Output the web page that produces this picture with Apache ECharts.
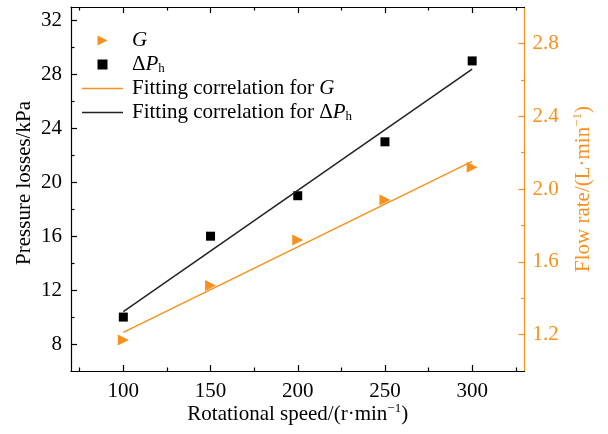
<!DOCTYPE html>
<html>
<head>
<meta charset="utf-8">
<script src="https://cdn.jsdelivr.net/npm/echarts@6/dist/echarts.min.js"></script>
<style>
  html, body { margin: 0; padding: 0; background: #fff; }
  #chart { width: 608px; height: 434px; }
</style>
</head>
<body>
<div id="chart"></div>
<script>
// Measured points: rotational speed vs. flow rate G and pressure loss ΔPh
const speed = [100, 150, 200, 250, 300];
const flowRate = [1.17, 1.47, 1.72, 1.94, 2.12];       // L·min⁻¹
const pressureLoss = [10, 16, 19, 23, 29];              // kPa

// Fitted straight lines (end points)
const fitSpeed = [100, 300];
const fitFlow = [1.212, 2.152];
const fitPressure = [10.4, 28.4];

// Axis ticks
const speedTicks = [100, 150, 200, 250, 300];
const speedMinor = [75, 125, 175, 225, 275, 325];
const pressureTicks = [8, 12, 16, 20, 24, 28, 32];
const pressureMinor = [10, 14, 18, 22, 26, 30];
const flowTicks = [1.2, 1.6, 2.0, 2.4, 2.8];
const flowMinor = [1.4, 1.8, 2.2, 2.6];

const ORANGE = '#f7901e';
const BLACK = '#000';
const LINE_BLACK = '#222';
const FONT = '"Liberation Serif", "Times New Roman", serif';
const FS = 21;

// Legend glyphs (drawn with kept aspect ratio)
const ICON_TRIANGLE = 'path://M0,0L10,5L0,10Z';
const ICON_SQUARE = 'path://M0,0H10V10H0Z';
const ICON_LINE = 'path://M0,0H41V1.5H0Z';

const pairs = (xs, ys) => xs.map((x, i) => [x, ys[i]]);

const rich = {
  it: { fontFamily: FONT, fontSize: FS, fontStyle: 'italic', color: BLACK },
  sub: { fontFamily: FONT, fontSize: 13, verticalAlign: 'bottom', color: BLACK },
  sup: { fontFamily: FONT, fontSize: 13, verticalAlign: 'top', lineHeight: 24 },
  supO: { fontFamily: FONT, fontSize: 13, verticalAlign: 'top', lineHeight: 24, color: ORANGE }
};

function majorX(position, showLabel, extra) {
  return Object.assign({
    type: 'value', position, min: 70, max: 330,
    axisLine: { show: true, onZero: false, lineStyle: { color: BLACK, width: 1.2 } },
    axisTick: { show: true, inside: true, length: 6, customValues: speedTicks, lineStyle: { color: BLACK, width: 1.2 } },
    axisLabel: { show: showLabel, customValues: speedTicks, margin: 10, color: BLACK, fontFamily: FONT, fontSize: FS },
    splitLine: { show: false }
  }, extra || {});
}
function minorX(position) {
  return {
    type: 'value', position, min: 70, max: 330,
    axisLine: { show: false, onZero: false },
    axisTick: { show: true, inside: true, length: 3.5, customValues: speedMinor, lineStyle: { color: BLACK, width: 1.2 } },
    axisLabel: { show: false }, splitLine: { show: false }
  };
}

const option = {
  animation: false,
  backgroundColor: '#fff',
  grid: { left: 71, right: 83.5, top: 7, bottom: 63, containLabel: false },
  legend: {
    orient: 'vertical', left: 82, top: 30, padding: 0,
    itemWidth: 41, itemHeight: 10, itemGap: 3,
    textStyle: { fontFamily: FONT, fontSize: FS, color: BLACK, padding: [0, 0, 0, 4], rich },
    data: [
      { name: 'G', icon: ICON_TRIANGLE, itemStyle: { color: ORANGE } },
      { name: 'dP', icon: ICON_SQUARE, itemStyle: { color: BLACK } },
      { name: 'fitG', icon: ICON_LINE, itemStyle: { color: ORANGE } },
      { name: 'fitP', icon: ICON_LINE, itemStyle: { color: LINE_BLACK } }
    ],
    formatter: (name) => ({
      G: '{it|G}',
      dP: 'Δ{it|P}{sub|h}',
      fitG: 'Fitting correlation for {it|G}',
      fitP: 'Fitting correlation for Δ{it|P}{sub|h}'
    })[name]
  },
  xAxis: [
    majorX('bottom', true, {
      name: 'Rotational speed/(r·min{sup|−1})',
      nameLocation: 'middle', nameGap: 31, nameMoveOverlap: false,
      nameTextStyle: { fontFamily: FONT, fontSize: FS, color: BLACK, rich }
    }),
    majorX('top', false),
    minorX('bottom'),
    minorX('top')
  ],
  yAxis: [
    {
      type: 'value', position: 'left', min: 6, max: 33,
      name: 'Pressure losses/kPa', nameLocation: 'middle', nameRotate: 90, nameGap: 36, nameMoveOverlap: false,
      nameTextStyle: { fontFamily: FONT, fontSize: FS, color: BLACK, padding: [0, 0, 0, 12] },
      axisLine: { show: true, onZero: false, lineStyle: { color: BLACK, width: 1.2 } },
      axisTick: { show: true, inside: true, length: 6, customValues: pressureTicks, lineStyle: { color: BLACK, width: 1.2 } },
      axisLabel: { customValues: pressureTicks, margin: 9, color: BLACK, fontFamily: FONT, fontSize: FS },
      splitLine: { show: false }
    },
    {
      type: 'value', position: 'right', min: 1.0, max: 3.0,
      name: 'Flow rate/(L·min{supO|−1})', nameLocation: 'middle', nameRotate: 90, nameGap: 47, nameMoveOverlap: false,
      nameTextStyle: { fontFamily: FONT, fontSize: FS, color: ORANGE, rich },
      axisLine: { show: true, onZero: false, lineStyle: { color: ORANGE, width: 1.2 } },
      axisTick: { show: true, inside: true, length: 6, customValues: flowTicks, lineStyle: { color: ORANGE, width: 1.2 } },
      axisLabel: { customValues: flowTicks, margin: 8, color: ORANGE, fontFamily: FONT, fontSize: FS, formatter: (v) => v.toFixed(1) },
      splitLine: { show: false }
    },
    {
      type: 'value', position: 'left', min: 6, max: 33,
      axisLine: { show: false, onZero: false },
      axisTick: { show: true, inside: true, length: 3.5, customValues: pressureMinor, lineStyle: { color: BLACK, width: 1.2 } },
      axisLabel: { show: false }, splitLine: { show: false }
    },
    {
      type: 'value', position: 'right', min: 1.0, max: 3.0,
      axisLine: { show: false, onZero: false },
      axisTick: { show: true, inside: true, length: 3.5, customValues: flowMinor, lineStyle: { color: ORANGE, width: 1.2 } },
      axisLabel: { show: false }, splitLine: { show: false }
    }
  ],
  series: [
    {
      name: 'fitG', type: 'line', xAxisIndex: 0, yAxisIndex: 1,
      data: pairs(fitSpeed, fitFlow), symbol: 'none',
      lineStyle: { color: ORANGE, width: 1.5 }, itemStyle: { color: ORANGE }
    },
    {
      name: 'fitP', type: 'line', xAxisIndex: 0, yAxisIndex: 0,
      data: pairs(fitSpeed, fitPressure), symbol: 'none',
      lineStyle: { color: LINE_BLACK, width: 1.5 }, itemStyle: { color: LINE_BLACK }
    },
    {
      name: 'G', type: 'scatter', xAxisIndex: 0, yAxisIndex: 1,
      data: pairs(speed, flowRate), symbol: 'triangle', symbolRotate: -90, symbolSize: 11,
      itemStyle: { color: ORANGE, opacity: 1 }
    },
    {
      name: 'dP', type: 'scatter', xAxisIndex: 0, yAxisIndex: 0,
      data: pairs(speed, pressureLoss), symbol: 'rect', symbolSize: 9,
      itemStyle: { color: BLACK, opacity: 1 }
    }
  ]
};

const chart = echarts.init(document.getElementById('chart'), null, { renderer: 'canvas' });
chart.setOption(option);
</script>
</body>
</html>
